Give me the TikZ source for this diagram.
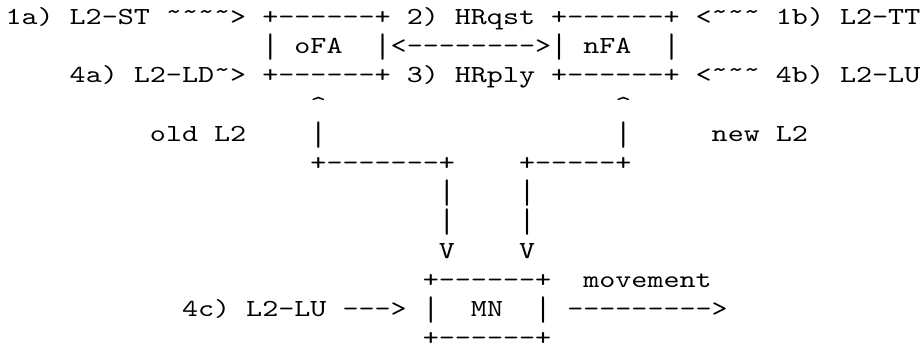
\documentclass[tikz,border=0pt]{standalone}
\usepackage{fontspec}
\usepackage{graphicx}
\newfontfamily\artfont{lmmono10-regular.otf}[FakeStretch=1.2478]
% raised ASCII tilde, caret and a tall vertical bar, as Courier draws them
\newcommand\tld{\raisebox{5pt}{\textasciitilde}}
\newcommand\crt{\textasciicircum}
\newcommand\vbarc{\raisebox{-7pt}{\resizebox*{\width}{26.5pt}{\raisebox{\depth}{|}}}}
% one run of ASCII text: name, column, line, text
\newcommand\seg[4]{\node[art] (#1) at ({5.5+(#2)*16.05},{324.6-(#3-1)*29.2}) {#4};}
\begin{document}
\begin{tikzpicture}[x=1pt,y=1pt,
  art/.style={font=\artfont\fontsize{24.5}{24.5}\selectfont, inner sep=0pt, outer sep=0pt, anchor=base west, text depth=0pt, text=black}]
\useasboundingbox (0,0) rectangle (920,349);
\fill[white] (0,0) rectangle (920,349);
% line 1
\seg{l1a}{0}{1}{1a) L2-ST \tld\tld\tld\tld>}
\seg{ofaT}{16}{1}{+------+}
\seg{hrqst}{25}{1}{2) HRqst}
\seg{nfaT}{34}{1}{+------+}
\seg{l1b}{43}{1}{<\tld\tld\tld{} 1b) L2-TT}
% line 2
\seg{ofaL}{16}{2}{\vbarc}
\seg{ofa}{18}{2}{oFA}
\seg{ofaR}{23}{2}{\vbarc}
\seg{link}{24}{2}{<-------->}
\seg{nfaL}{34}{2}{\vbarc}
\seg{nfa}{36}{2}{nFA}
\seg{nfaR}{41}{2}{\vbarc}
% line 3
\seg{l4a}{4}{3}{4a) L2-LD\tld>}
\seg{ofaB}{16}{3}{+------+}
\seg{hrply}{25}{3}{3) HRply}
\seg{nfaB}{34}{3}{+------+}
\seg{l4b}{43}{3}{<\tld\tld\tld{} 4b) L2-LU}
% line 4
\seg{upL}{19}{4}{\crt}
\seg{upR}{38}{4}{\crt}
% line 5
\seg{oldl}{9}{5}{old L2}
\seg{vL5}{19}{5}{\vbarc}
\seg{vR5}{38}{5}{\vbarc}
\seg{newl}{44}{5}{new L2}
% line 6
\seg{hL}{19}{6}{+-------+}
\seg{hR}{32}{6}{+-----+}
% lines 7-9
\seg{dL7}{27}{7}{\vbarc}
\seg{dR7}{32}{7}{\vbarc}
\seg{dL8}{27}{8}{\vbarc}
\seg{dR8}{32}{8}{\vbarc}
\seg{dL9}{27}{9}{V}
\seg{dR9}{32}{9}{V}
% lines 10-12
\seg{mnT}{26}{10}{+------+}
\seg{mov}{36}{10}{movement}
\seg{l4c}{11}{11}{4c) L2-LU --->}
\seg{mnL}{26}{11}{\vbarc}
\seg{mn}{29}{11}{MN}
\seg{mnR}{33}{11}{\vbarc}
\seg{movarr}{35}{11}{--------->}
\seg{mnB}{26}{12}{+------+}
\end{tikzpicture}
\end{document}
